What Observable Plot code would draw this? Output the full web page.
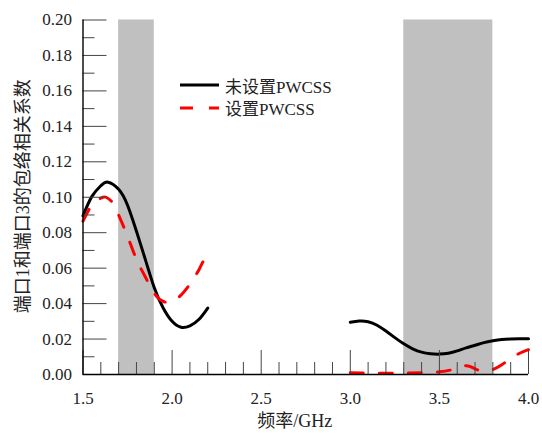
<!DOCTYPE html>
<html>
<head>
<meta charset="utf-8">
<script src="https://cdn.jsdelivr.net/npm/d3@7"></script>
<script src="https://cdn.jsdelivr.net/npm/@observablehq/plot@0.6"></script>
<style>
  body { margin: 0; background: #fff; }
  #wrap { position: relative; width: 542px; height: 433px; }
  #legend { position: absolute; left: 180px; top: 74px; font-family: "Times New Roman", "Liberation Serif", "Noto Sans CJK SC", serif; font-size: 17px; color: #222; }
  #legend .row { display: flex; align-items: center; height: 22.5px; }
  #legend svg { margin-right: 6px; }
  #chart svg text { font-family: "Times New Roman", "Liberation Serif", "Noto Sans CJK SC", serif; }
</style>
</head>
<body>
<div id="wrap">
  <div id="chart"></div>
  <div id="legend"></div>
</div>
<script>
// Frequency (GHz) and envelope correlation coefficient between port 1 and port 3
const freqLowNo   = [1.50, 1.55, 1.60, 1.64, 1.70, 1.75, 1.80, 1.85, 1.90, 1.95, 2.00, 2.05, 2.10, 2.15, 2.20];
const eccLowNo    = [0.0895, 0.1005, 0.1065, 0.1085, 0.1045, 0.0955, 0.0808, 0.0648, 0.0490, 0.0375, 0.0300, 0.0267, 0.0275, 0.0310, 0.0375];
const freqHighNo  = [3.00, 3.05, 3.10, 3.15, 3.20, 3.25, 3.30, 3.35, 3.40, 3.45, 3.50, 3.55, 3.60, 3.65, 3.70, 3.75, 3.80, 3.85, 3.90, 3.95, 4.00];
const eccHighNo   = [0.0295, 0.0302, 0.0298, 0.0278, 0.0245, 0.0208, 0.0173, 0.0145, 0.0126, 0.0117, 0.0115, 0.0120, 0.0133, 0.0150, 0.0165, 0.0180, 0.0190, 0.0197, 0.0200, 0.0201, 0.0201];

const freqLowYes  = [1.50, 1.55, 1.60, 1.63, 1.67, 1.70, 1.75, 1.80, 1.85, 1.90, 1.95, 2.00, 2.05, 2.10, 2.15, 2.20];
const eccLowYes   = [0.0865, 0.0955, 0.0995, 0.1000, 0.0965, 0.0900, 0.0780, 0.0650, 0.0550, 0.0458, 0.0412, 0.0412, 0.0448, 0.0510, 0.0590, 0.0694];
const freqHighYes = [3.00, 3.10, 3.20, 3.30, 3.40, 3.50, 3.58, 3.65, 3.70, 3.75, 3.80, 3.85, 3.90, 3.95, 4.00];
const eccHighYes  = [0.0010, 0.0008, 0.0007, 0.0008, 0.0010, 0.0015, 0.0030, 0.0050, 0.0032, 0.0019, 0.0028, 0.0055, 0.0090, 0.0120, 0.0140];

// Shaded operating bands (GHz)
const bandStart = [1.7, 3.3];
const bandEnd   = [1.9, 3.8];

// Axes
const xDomain = [1.5, 4.0];
const yDomain = [0, 0.20];
const xMajor = [1.5, 2.0, 2.5, 3.0, 3.5, 4.0];
const xMinor = [1.6, 1.7, 1.8, 1.9, 2.1, 2.2, 2.3, 2.4, 2.6, 2.7, 2.8, 2.9, 3.1, 3.2, 3.3, 3.4, 3.6, 3.7, 3.8, 3.9];
const yMajor = [0, 0.02, 0.04, 0.06, 0.08, 0.10, 0.12, 0.14, 0.16, 0.18, 0.20];
const yMinor = [0.01, 0.03, 0.05, 0.07, 0.09, 0.11, 0.13, 0.15, 0.17, 0.19];

const seriesNames = ["未设置PWCSS", "设置PWCSS"];
const xLabel = "频率/GHz";
const yLabel = "端口1和端口3的包络相关系数";

const toRows = (xs, ys, seg) => xs.map((x, i) => ({x, y: ys[i], seg}));
const solidRows = [...toRows(freqLowNo, eccLowNo, "low"), ...toRows(freqHighNo, eccHighNo, "high")];
const dashedRows = [...toRows(freqLowYes, eccLowYes, "low"), ...toRows(freqHighYes, eccHighYes, "high")];
const bands = bandStart.map((s, i) => ({start: s, end: bandEnd[i]}));

const tickColor = "#444";
const textColor = "#222";

const chart = Plot.plot({
  width: 542,
  height: 433,
  marginLeft: 82.5,
  marginRight: 14,
  marginTop: 19.5,
  marginBottom: 59,
  style: {background: "#fff", color: textColor},
  x: {domain: xDomain, axis: null},
  y: {domain: yDomain, axis: null},
  marks: [
    Plot.rect(bands, {x1: "start", x2: "end", fill: "#c0c0c0"}),
    Plot.line(solidRows, {x: "x", y: "y", z: "seg", curve: "natural", stroke: "#000", strokeWidth: 3}),
    Plot.line(dashedRows, {x: "x", y: "y", z: "seg", curve: "natural", stroke: "#ff0000", strokeWidth: 3, strokeDasharray: "13,16"}),
    // inward-facing ticks
    Plot.axisY(yMinor, {tickSize: -12, tickFormat: () => "", stroke: tickColor, label: null}),
    Plot.axisY(yMajor, {tickSize: -24, tickPadding: 35, tickFormat: d3.format(".2f"), stroke: tickColor, fill: textColor, fontSize: 17, label: null}),
    Plot.axisX(xMinor, {tickSize: -12, tickFormat: () => "", stroke: tickColor, label: null}),
    Plot.axisX(xMajor, {tickSize: -24, tickPadding: 41, tickFormat: d3.format(".1f"), stroke: tickColor, fill: textColor, fontSize: 17, label: null}),
    // axis lines
    Plot.ruleX([xDomain[0]], {stroke: "#000", strokeWidth: 1.4}),
    Plot.ruleY([yDomain[0]], {stroke: "#000", strokeWidth: 1.4}),
    // axis titles
    Plot.text([xLabel], {frameAnchor: "bottom", dx: -11, dy: 47, textAnchor: "middle", lineAnchor: "middle", fontSize: 18, fill: textColor}),
    Plot.text([yLabel], {frameAnchor: "left", dx: -59.5, dy: -1, rotate: -90, textAnchor: "middle", lineAnchor: "middle", fontSize: 18, fill: textColor})
  ]
});
document.getElementById("chart").appendChild(chart);

// Legend
const legend = d3.select("#legend");
const styles = [
  {stroke: "#000", dash: null},
  {stroke: "#ff0000", dash: "13,16"}
];
seriesNames.forEach((name, i) => {
  const row = legend.append("div").attr("class", "row");
  const sw = row.append("svg").attr("width", 39).attr("height", 10);
  sw.append("line")
    .attr("x1", 0).attr("x2", 39).attr("y1", 5).attr("y2", 5)
    .attr("stroke", styles[i].stroke).attr("stroke-width", 3)
    .attr("stroke-dasharray", styles[i].dash);
  row.append("span").text(name);
});
</script>
</body>
</html>
